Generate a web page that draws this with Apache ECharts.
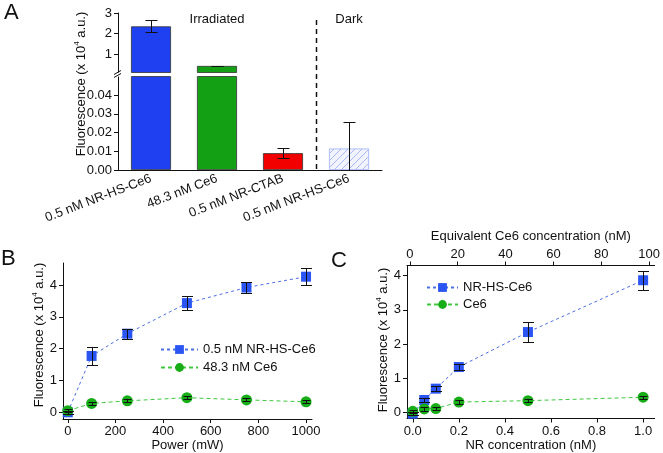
<!DOCTYPE html>
<html><head><meta charset="utf-8">
<script src="https://cdn.jsdelivr.net/npm/echarts@6/dist/echarts.min.js"></script>
<style>html,body{margin:0;padding:0;background:#fff}#c{width:663px;height:453px}</style>
</head><body><div id="c"></div>
<script>
// ---- Panel A data ----
const catsA = ['0.5 nM NR-HS-Ce6', '48.3 nM Ce6', '0.5 nM NR-CTAB', '0.5 nM NR-HS-Ce6'];
const barA = [2.35, 0.42, 0.0090, 0.0115];
const errA = [0.30, 0.01, 0.0025, 0.0142];
const ticksAUpper = [1, 2, 3];
const ticksALower = [0, 0.01, 0.02, 0.03, 0.04];
// ---- Panel B data ----
const powerX = [0, 100, 250, 500, 750, 1000];
const bBlue = [0.0, 1.77, 2.47, 3.43, 3.92, 4.26];
const bBlueErr = [0.05, 0.29, 0.16, 0.21, 0.16, 0.27];
const bGreen = [0.05, 0.28, 0.36, 0.46, 0.39, 0.33];
const bGreenErr = [0.05, 0.05, 0.05, 0.05, 0.05, 0.05];
const ticksBX = [0, 200, 400, 600, 800, 1000];
const ticksY = [0, 1, 2, 3, 4];
// ---- Panel C data ----
const nrX = [0, 0.05, 0.1, 0.2, 0.5, 1.0];
const cBlue = [-0.03, 0.37, 0.70, 1.33, 2.35, 3.86];
const cBlueErr = [0.05, 0.06, 0.08, 0.08, 0.29, 0.28];
const cGreen = [0.04, 0.11, 0.12, 0.31, 0.35, 0.45];
const cGreenErr = [0.05, 0.05, 0.05, 0.05, 0.05, 0.05];
const ticksCX = [0, 0.2, 0.4, 0.6, 0.8, 1.0];
const ticksCTop = [0, 20, 40, 60, 80, 100];

const FONT = 'Liberation Sans, Arial, sans-serif';
const TXT = '#111';
const BLUE_BAR = '#1f40f0', GREEN_BAR = '#14a014', RED_BAR = '#f20000';
const BLUE = '#2a55f2', GREEN = '#17ad17';
const BLUE_LINE = '#4d6fe6', GREEN_LINE = '#3fc73f';

// hatch pattern for dark bar
const pc = document.createElement('canvas');
pc.width = 7; pc.height = 7;
const g = pc.getContext('2d');
g.fillStyle = '#f1f3ff'; g.fillRect(0, 0, 7, 7);
g.strokeStyle = '#a9b7f2'; g.lineWidth = 1;
g.beginPath(); g.moveTo(0, 7); g.lineTo(7, 0); g.moveTo(-1, 1); g.lineTo(1, -1); g.moveTo(6, 8); g.lineTo(8, 6); g.stroke();

const barColors = [BLUE_BAR, GREEN_BAR, RED_BAR, {image: pc, repeat: 'repeat'}];
const barBorders = ['#333', '#333', '#333', '#9fb0f5'];

function errRender(capW) {
  return function (params, api) {
    const cs = params.coordSys;
    const x = api.value(0), v = api.value(1), e = api.value(2);
    const pHi = api.coord([x, v + e]);
    const pLo = api.coord([x, v - e]);
    const yTop = cs.y, yBot = cs.y + cs.height;
    const children = [];
    let y1 = pHi[1], y2 = pLo[1];
    const hiIn = y1 >= yTop - 0.5 && y1 <= yBot + 0.5;
    const loIn = y2 >= yTop - 0.5 && y2 <= yBot + 0.5;
    y1 = Math.round(Math.max(yTop, Math.min(yBot, y1))) + 0.5;
    y2 = Math.round(Math.max(yTop, Math.min(yBot, y2))) + 0.5;
    const px = Math.round(pHi[0]) + 0.5;
    const st = {stroke: '#111', lineWidth: 1};
    if (y2 > y1) children.push({type: 'line', shape: {x1: px, y1: y1, x2: px, y2: y2}, style: st});
    if (hiIn) children.push({type: 'line', shape: {x1: px - capW / 2, y1: y1, x2: px + capW / 2, y2: y1}, style: st});
    if (loIn) children.push({type: 'line', shape: {x1: px - capW / 2, y1: y2, x2: px + capW / 2, y2: y2}, style: st});
    return {type: 'group', children: children};
  };
}

const axisLineStyle = {lineStyle: {color: '#111', width: 1}};
const labelStyle = {color: TXT, fontFamily: FONT, fontSize: 13};

function valAxis(extra) {
  return Object.assign({
    type: 'value', splitLine: {show: false},
    axisLine: Object.assign({show: true, onZero: false}, axisLineStyle),
    axisTick: {show: true, length: 4, lineStyle: {color: '#111'}},
    axisLabel: Object.assign({margin: 6}, labelStyle)
  }, extra);
}

const barData = barA.map((v, i) => ({value: v, itemStyle: {color: barColors[i], borderColor: barBorders[i], borderWidth: 0.8}}));
const errDataA = barA.map((v, i) => [i, v, errA[i]]);

const option = {
  animation: false,
  backgroundColor: '#fff',
  textStyle: {fontFamily: FONT},
  grid: [
    {left: 118, top: 13, width: 264, height: 59.5},
    {left: 118, top: 76.5, width: 264, height: 93.5},
    {left: 63, top: 263, width: 249, height: 156},
    {left: 407, top: 265.5, width: 248, height: 153}
  ],
  xAxis: [
    {type: 'category', gridIndex: 0, data: catsA, show: false},
    {type: 'category', gridIndex: 1, data: catsA,
      axisLine: Object.assign({show: true}, axisLineStyle), axisTick: {show: false},
      axisLabel: Object.assign({rotate: 21, margin: 8, interval: 0}, labelStyle)},
    valAxis({gridIndex: 2, min: -20, max: 1025,
      axisLabel: Object.assign({margin: 6, customValues: ticksBX, formatter: v => String(v)}, labelStyle),
      axisTick: {show: true, length: 4, customValues: ticksBX, lineStyle: {color: '#111'}},
      name: 'Power (mW)', nameLocation: 'middle', nameGap: 20,
      nameTextStyle: {color: TXT, fontFamily: FONT, fontSize: 13}}),
    valAxis({gridIndex: 3, min: -0.025, max: 1.05,
      axisLabel: Object.assign({margin: 6, customValues: ticksCX, formatter: v => v.toFixed(1)}, labelStyle),
      axisTick: {show: true, length: 4, customValues: ticksCX, lineStyle: {color: '#111'}},
      name: 'NR concentration (nM)', nameLocation: 'middle', nameGap: 20,
      nameTextStyle: {color: TXT, fontFamily: FONT, fontSize: 13}}),
    valAxis({gridIndex: 3, position: 'top', min: -1.2, max: 102.3,
      axisLabel: Object.assign({margin: 5, customValues: ticksCTop, formatter: v => String(v)}, labelStyle),
      axisTick: {show: true, length: 4, customValues: ticksCTop, lineStyle: {color: '#111'}},
      name: 'Equivalent Ce6 concentration (nM)', nameLocation: 'middle', nameGap: 23,
      nameTextStyle: {color: TXT, fontFamily: FONT, fontSize: 13}})
  ],
  yAxis: [
    valAxis({gridIndex: 0, min: 0.1, max: 3,
      axisLabel: Object.assign({margin: 6, customValues: ticksAUpper}, labelStyle),
      axisTick: {show: true, length: 4, customValues: ticksAUpper, lineStyle: {color: '#111'}}}),
    valAxis({gridIndex: 1, min: 0, max: 0.05,
      axisLabel: Object.assign({margin: 6, customValues: ticksALower, formatter: v => v.toFixed(2)}, labelStyle),
      axisTick: {show: true, length: 4, customValues: ticksALower, lineStyle: {color: '#111'}}}),
    valAxis({gridIndex: 2, min: -0.21, max: 4.69,
      axisLabel: Object.assign({margin: 6, customValues: ticksY}, labelStyle),
      axisTick: {show: true, length: 4, customValues: ticksY, lineStyle: {color: '#111'}}}),
    valAxis({gridIndex: 3, min: -0.17, max: 4.29,
      axisLabel: Object.assign({margin: 6, customValues: ticksY}, labelStyle),
      axisTick: {show: true, length: 4, customValues: ticksY, lineStyle: {color: '#111'}}})
  ],
  legend: [
    {left: 155, top: 338, orient: 'vertical', itemWidth: 37, itemHeight: 11, itemGap: 5,
      textStyle: {color: TXT, fontFamily: FONT, fontSize: 13},
      data: ['0.5 nM NR-HS-Ce6', '48.3 nM Ce6']},
    {left: 421, top: 276, orient: 'vertical', itemWidth: 31, itemHeight: 11, itemGap: 4,
      textStyle: {color: TXT, fontFamily: FONT, fontSize: 13},
      data: ['NR-HS-Ce6', 'Ce6']}
  ],
  series: [
    {type: 'bar', xAxisIndex: 0, yAxisIndex: 0, data: barData, barWidth: 40, clip: true},
    {type: 'bar', xAxisIndex: 1, yAxisIndex: 1, data: barData, barWidth: 40, clip: true},
    {type: 'custom', xAxisIndex: 0, yAxisIndex: 0, renderItem: errRender(12), data: errDataA.slice(0, 2), z: 5},
    {type: 'custom', xAxisIndex: 1, yAxisIndex: 1, renderItem: errRender(12), data: errDataA.slice(2), z: 5},
    // Panel B
    {name: '0.5 nM NR-HS-Ce6', type: 'line', xAxisIndex: 2, yAxisIndex: 2,
      data: powerX.map((x, i) => [x, bBlue[i]]), symbol: 'rect', symbolSize: 10,
      itemStyle: {color: BLUE}, lineStyle: {color: BLUE_LINE, width: 1, type: [3, 3]}, z: 3},
    {name: '48.3 nM Ce6', type: 'line', xAxisIndex: 2, yAxisIndex: 2,
      data: powerX.map((x, i) => [x, bGreen[i]]), symbol: 'circle', symbolSize: 11,
      itemStyle: {color: GREEN}, lineStyle: {color: GREEN_LINE, width: 1, type: [4, 3]}, z: 4},
    {type: 'custom', xAxisIndex: 2, yAxisIndex: 2, renderItem: errRender(11),
      data: powerX.map((x, i) => [x, bBlue[i], bBlueErr[i]]), z: 6},
    {type: 'custom', xAxisIndex: 2, yAxisIndex: 2, renderItem: errRender(8),
      data: powerX.map((x, i) => [x, bGreen[i], bGreenErr[i]]), z: 6},
    // Panel C
    {name: 'NR-HS-Ce6', type: 'line', xAxisIndex: 3, yAxisIndex: 3,
      data: nrX.map((x, i) => [x, cBlue[i]]), symbol: 'rect', symbolSize: 10,
      itemStyle: {color: BLUE}, lineStyle: {color: BLUE_LINE, width: 1, type: [3, 3]}, z: 3},
    {name: 'Ce6', type: 'line', xAxisIndex: 3, yAxisIndex: 3,
      data: nrX.map((x, i) => [x, cGreen[i]]), symbol: 'circle', symbolSize: 11,
      itemStyle: {color: GREEN}, lineStyle: {color: GREEN_LINE, width: 1, type: [4, 3]}, z: 4},
    {type: 'custom', xAxisIndex: 3, yAxisIndex: 3, renderItem: errRender(11),
      data: nrX.map((x, i) => [x, cBlue[i], cBlueErr[i]]), z: 6},
    {type: 'custom', xAxisIndex: 3, yAxisIndex: 3, renderItem: errRender(8),
      data: nrX.map((x, i) => [x, cGreen[i], cGreenErr[i]]), z: 6}
  ]
};

const chart = echarts.init(document.getElementById('c'), null, {renderer: 'canvas'});
chart.setOption(option);

// decorations positioned from the chart's own scales
const yTitleRich = {
  sup: {fontSize: 8, fontFamily: FONT, fill: TXT, verticalAlign: 'top', lineHeight: 16, padding: [0, 0, 6, 0]}
};
function yTitle(x, y) {
  return {type: 'text', x: x, y: y, rotation: Math.PI / 2, z: 10,
    style: {text: 'Fluorescence (x 10{sup|4} a.u.)', font: '13px ' + FONT, fill: TXT,
      align: 'center', verticalAlign: 'middle', lineHeight: 16, rich: yTitleRich}};
}
const c0 = chart.convertToPixel({xAxisIndex: 1}, 0);
const c1 = chart.convertToPixel({xAxisIndex: 1}, 1);
const c2 = chart.convertToPixel({xAxisIndex: 1}, 2);
const c3 = chart.convertToPixel({xAxisIndex: 1}, 3);
const divX = Math.round((c2 + c3) / 2) + 0.5;
const yBase = chart.convertToPixel({yAxisIndex: 1}, 0);
const axX = c0 - (c1 - c0) / 2;
const yBreak = (chart.convertToPixel({yAxisIndex: 0}, 0.1) + chart.convertToPixel({yAxisIndex: 1}, 0.05)) / 2;

chart.setOption({
  graphic: [
    {type: 'text', x: 4, y: 2, style: {text: 'A', font: '22px ' + FONT, fill: TXT}},
    {type: 'text', x: 1, y: 248, style: {text: 'B', font: '22px ' + FONT, fill: TXT}},
    {type: 'text', x: 331, y: 250, style: {text: 'C', font: '22px ' + FONT, fill: TXT}},
    yTitle(81, 84), yTitle(39, 335), yTitle(383, 340),
    {type: 'text', x: c1, y: 19, style: {text: 'Irradiated', font: '13px ' + FONT, fill: TXT, align: 'center', verticalAlign: 'middle'}},
    {type: 'text', x: c3, y: 19, style: {text: 'Dark', font: '13px ' + FONT, fill: TXT, align: 'center', verticalAlign: 'middle'}},
    {type: 'line', shape: {x1: divX, y1: 20, x2: divX, y2: yBase}, style: {stroke: '#111', lineWidth: 1.5, lineDash: [5, 4]}},
    {type: 'rect', shape: {x: axX - 1, y: yBreak - 2, width: 2, height: 4}, style: {fill: '#fff'}, z: 20},
    {type: 'line', shape: {x1: axX - 4, y1: yBreak, x2: axX + 3, y2: yBreak - 4}, style: {stroke: '#111', lineWidth: 1}, z: 21},
    {type: 'line', shape: {x1: axX - 4, y1: yBreak + 3, x2: axX + 3, y2: yBreak - 1}, style: {stroke: '#111', lineWidth: 1}, z: 21}
  ]
});
</script></body></html>
